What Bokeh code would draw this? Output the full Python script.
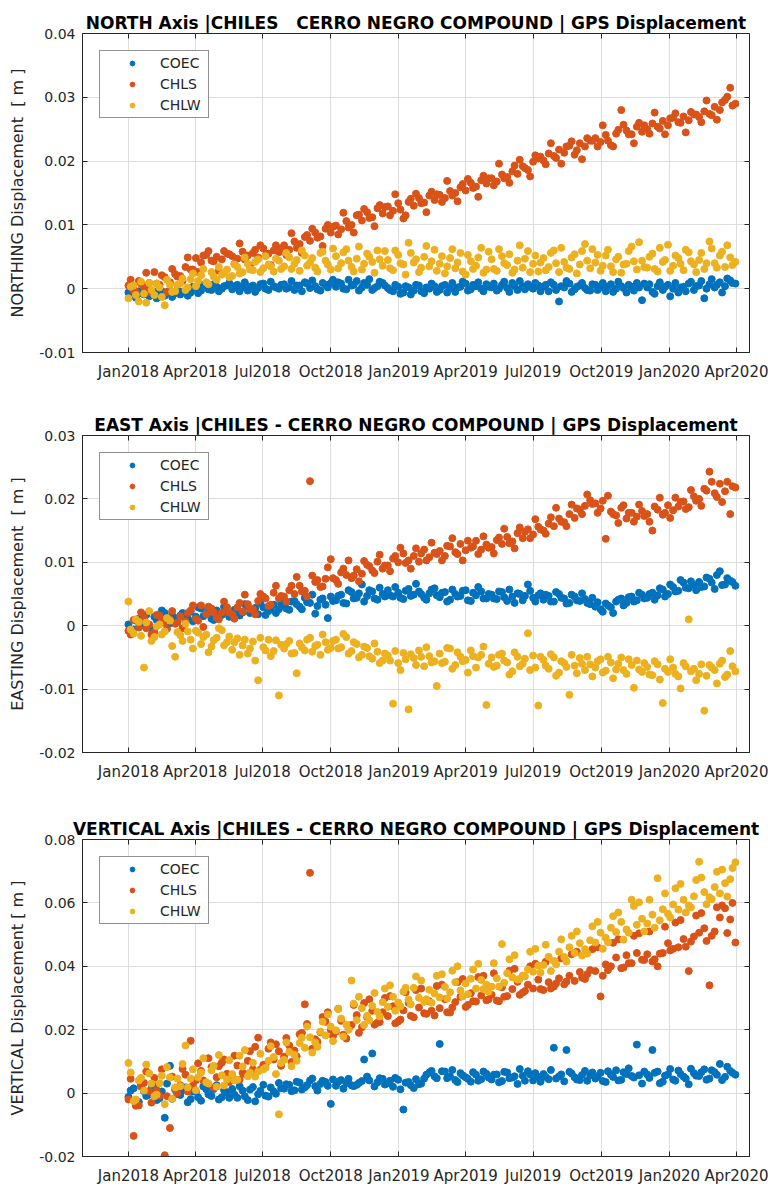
import pandas as pd
from bokeh.plotting import figure
from bokeh.models import (ColumnDataSource, Range1d, FixedTicker, CustomJSTickFormatter,
                          LinearAxis, Legend, LegendItem)
from bokeh.layouts import column
from bokeh.embed import file_html
from bokeh.resources import INLINE

# ---------------------------------------------------------------- data
# GPS displacement in millimetres.
# "_mon" lists: weekly readings starting Monday 2018-01-01
# "_thu" lists: weekly readings starting Thursday 2018-01-04
mon_start = "2018-01-01"
thu_start = "2018-01-04"
sample_step = "7D"
stations = ["COEC", "CHLS", "CHLW"]
station_colors = ["#0072BD", "#D95319", "#EDB120"]
x_tick_dates = ["2018-01-01", "2018-04-01", "2018-07-01", "2018-10-01", "2019-01-01",
                "2019-04-01", "2019-07-01", "2019-10-01", "2020-01-01", "2020-04-01"]

north_coec_mon = [-0.6, -1.0, -0.4, -0.9, -1.2, -0.5, -0.8, -1.1, -0.3, -0.7,
                  -0.9, -0.4, -0.6, 0.1, -0.3, 0.4, -0.2, 0.3, 0.0, 0.5,
                  -0.1, 0.6, 0.2, -0.3, 0.5, 0.1, 0.8, -0.2, 0.4, 0.0,
                  0.7, 0.2, -0.2, 0.5, 1.0, 0.1, 0.4, -0.3, 0.6, 0.9,
                  0.3, 0.8, -0.1, 0.5, 1.2, 0.2, 0.6, -0.2, 0.4, 0.9,
                  0.1, -0.4, 0.3, -0.6, 0.2, -0.3, 0.5, -0.7, 0.0, 0.4,
                  -0.2, 0.6, 0.1, -0.5, 0.3, 0.8, -0.1, 0.4, 0.0, 0.7,
                  0.2, -0.3, 0.6, 0.1, 0.9, -0.2, 0.4, 0.7, 0.0, 0.5,
                  0.3, -0.4, 0.6, -2.0, 0.2, 0.8, -0.1, 0.5, 0.1, -0.3,
                  0.6, 0.2, -0.4, 0.7, 0.0, 0.4, -0.6, 0.3, 0.9, -1.8,
                  0.2, -0.5, 0.4, -0.2, 0.6, 0.0, -0.6, 0.3, 0.8, -0.2,
                  0.5, -1.5, 0.7, 0.2, 1.0, 0.4, 1.3, 0.8]
north_coec_thu = [-0.3, -1.4, -0.7, -0.2, -1.0, -1.5, -0.4, -0.6, -1.3, -0.2,
                  -0.5, -1.1, 0.3, -0.7, 0.6, -0.1, 0.7, -0.4, 0.4, 0.9,
                  0.4, -0.4, 1.0, 0.3, -0.5, 0.7, 0.0, 1.1, 0.2, 0.6,
                  0.0, 1.2, 0.5, -0.4, 0.8, 1.3, -0.1, 0.9, 0.2, 1.4,
                  1.0, 0.0, 1.4, 0.6, -0.3, 0.9, 1.5, 0.1, 1.1, 0.5,
                  -0.2, 0.6, -0.8, 0.4, -0.9, 0.6, -0.4, 0.2, 0.8, -0.5,
                  0.4, -0.6, 0.9, 0.2, 1.1, -0.3, 0.6, 1.0, -0.4, 0.3,
                  0.8, 0.0, 1.1, -0.5, 0.4, 1.2, -0.1, 0.3, 0.9, -0.4,
                  0.6, 1.0, -0.2, 0.4, 1.2, -0.5, 0.3, 0.9, -0.2, 0.7,
                  -0.2, 0.9, 0.3, -0.5, 1.1, 0.1, 0.6, -0.3, 0.2, 0.8,
                  0.7, -0.8, 1.0, 0.3, -1.2, 0.9, 0.2, -0.4, 1.1, 0.4,
                  1.2, 0.0, 1.5, 0.6, -0.6, 1.6, 0.9]
north_chls_mon = [0.5, -0.3, 1.2, 0.2, 0.9, 2.6, 0.6, 1.8, 1.0, 2.3,
                  2.0, 3.4, 3.0, 4.8, 4.1, 5.3, 4.4, 5.0, 4.6, 5.5,
                  5.1, 4.7, 5.8, 5.2, 5.6, 4.9, 6.3, 5.5, 6.0, 5.7,
                  6.8, 6.1, 7.4, 7.0, 8.1, 7.5, 8.8, 8.2, 9.4, 8.8,
                  9.9, 9.3, 10.6, 10.0, 11.5, 10.7, 12.0, 11.2, 12.6, 11.8,
                  12.9, 12.2, 13.4, 11.0, 13.6, 13.0, 14.2, 13.5, 14.6, 13.9,
                  14.7, 14.2, 15.3, 15.0, 15.9, 15.4, 16.6, 16.0, 17.0, 16.5,
                  17.3, 16.8, 17.9, 17.5, 18.4, 18.0, 19.2, 18.6, 19.9, 20.4,
                  20.1, 21.2, 20.8, 21.8, 21.3, 22.4, 21.0, 22.8, 22.3, 23.2,
                  23.6, 23.0, 24.1, 22.5, 24.3, 28.0, 24.8, 24.2, 25.4, 24.6,
                  25.0, 25.9, 25.4, 26.3, 25.6, 26.8, 26.1, 27.0, 26.4, 27.3,
                  26.9, 27.8, 27.4, 28.5, 28.0, 29.6, 31.5, 29.0]
north_chls_thu = [1.4, -0.5, 0.8, 2.5, -0.6, 0.8, 2.1, -0.5, 3.1, 1.9,
                  1.2, 4.9, 3.0, 2.6, 5.2, 5.9, 4.3, 2.8, 5.9, 5.4,
                  3.9, 7.1, 4.6, 3.6, 6.1, 6.8, 5.2, 3.7, 6.8, 6.3,
                  5.3, 8.7, 6.4, 5.6, 8.4, 9.4, 8.0, 6.7, 10.0, 9.7,
                  8.5, 11.9, 9.6, 8.8, 11.6, 12.5, 11.1, 9.8, 13.1, 12.8,
                  11.5, 14.8, 12.4, 11.5, 14.1, 14.9, 13.4, 12.0, 15.2, 14.8,
                  13.6, 16.9, 14.6, 13.7, 16.4, 17.2, 15.8, 14.4, 17.7, 17.3,
                  16.2, 19.6, 17.3, 16.6, 19.3, 20.2, 18.9, 17.6, 20.9, 20.7,
                  19.5, 22.8, 20.5, 19.6, 22.3, 23.1, 21.7, 20.3, 23.6, 23.2,
                  22.3, 25.6, 23.2, 22.3, 24.9, 25.7, 24.2, 22.8, 26.0, 25.6,
                  24.3, 27.6, 25.1, 24.2, 26.7, 27.5, 26.0, 24.5, 27.7, 27.3,
                  26.1, 29.5, 27.2, 26.5, 29.2, 30.1, 28.7]
north_chlw_mon = [-1.5, 0.5, -2.0, -0.8, 0.9, -1.0, 0.2, -2.6, 0.6, -0.4,
                  0.8, -0.2, 1.5, 0.4, 2.1, 1.0, 2.6, 1.4, 2.2, 3.0,
                  2.0, 3.4, 2.6, 3.9, 2.9, 4.6, 3.2, 3.8, 2.7, 4.4,
                  3.5, 4.9, 3.9, 2.8, 5.2, 4.1, 3.3, 5.6, 4.4, 3.0,
                  5.1, 4.0, 6.2, 3.4, 4.7, 3.0, 5.5, 4.2, 6.0, 3.6,
                  4.5, 2.9, 5.3, 3.8, 7.2, 4.1, 2.6, 5.0, 3.5, 6.1,
                  3.9, 2.4, 4.8, 3.2, 5.6, 2.2, 4.3, 3.6, 6.4, 3.0,
                  4.6, 2.8, 5.1, 3.7, 2.5, 4.4, 3.3, 5.9, 3.9, 2.7,
                  4.8, 3.4, 6.0, 2.6, 4.2, 3.1, 5.4, 3.8, 7.0, 3.2,
                  4.1, 2.8, 5.2, 3.5, 4.6, 2.5, 3.9, 6.6, 3.0, 4.4,
                  3.3, 5.5, 2.7, 4.2, 6.9, 3.6, 4.8, 2.9, 5.7, 3.8,
                  4.5, 3.1, 7.4, 4.0, 5.2, 3.4, 4.9, 4.2]
north_chlw_thu = [0.3, -1.0, 1.1, -2.2, -0.2, 0.8, -1.3, 1.4, -0.5, 0.6,
                  1.6, 0.2, 2.4, 1.2, 3.1, 0.7, 1.9, 3.4, 2.5, 1.8,
                  3.8, 2.4, 4.9, 3.0, 4.2, 2.6, 5.1, 3.5, 4.7, 3.1,
                  5.6, 3.1, 4.5, 6.0, 3.6, 4.8, 2.7, 5.8, 3.8, 6.3,
                  3.2, 5.7, 4.4, 2.7, 6.6, 3.9, 5.0, 2.5, 4.6, 5.9,
                  3.2, 6.0, 4.0, 2.2, 5.6, 4.6, 3.3, 6.7, 4.3, 2.8,
                  5.1, 3.5, 6.2, 4.1, 2.7, 5.3, 3.1, 4.9, 2.5, 5.8,
                  3.1, 6.2, 4.0, 5.4, 3.0, 6.8, 4.7, 2.6, 5.2, 4.1,
                  2.9, 5.6, 4.0, 6.4, 3.3, 4.9, 2.4, 5.9, 4.4, 6.2,
                  5.3, 3.6, 6.1, 2.6, 5.0, 3.8, 5.9, 4.3, 7.3, 3.4,
                  5.0, 3.1, 6.4, 4.5, 2.8, 5.2, 3.9, 6.1, 4.3, 2.6,
                  5.6, 4.0, 6.3, 3.3, 5.8, 6.8, 3.7]

east_coec_mon = [0.2, -0.6, 1.1, 0.5, -0.3, 1.4, 0.7, 2.0, 0.4, 1.2,
                 1.6, 0.9, 2.2, 1.4, 2.7, 1.8, 1.1, 2.4, 1.7, 2.3,
                 1.9, 2.6, 2.1, 3.0, 2.4, 1.8, 2.9, 2.3, 3.3, 2.6,
                 3.2, 2.5, 3.9, 3.0, 4.4, 3.6, 1.9, 4.1, 3.3, 4.6,
                 4.0, 4.9, 3.5, 5.3, 4.4, 6.5, 4.7, 5.4, 4.1, 5.0,
                 5.6, 4.6, 5.2, 4.2, 5.8, 4.9, 5.4, 4.4, 5.1, 5.9,
                 4.5, 5.3, 4.1, 5.0, 4.7, 5.6, 3.9, 4.8, 5.4, 4.3,
                 4.9, 4.2, 5.3, 3.9, 4.6, 5.1, 4.0, 6.5, 4.4, 4.8,
                 4.1, 4.7, 3.8, 5.0, 4.3, 3.6, 4.6, 3.9, 4.2, 3.4,
                 3.0, 2.6, 3.5, 2.9, 3.8, 4.3, 3.6, 4.6, 4.0, 4.9,
                 4.4, 5.2, 4.8, 5.7, 5.0, 6.1, 5.5, 6.8, 5.9, 6.4,
                 6.9, 6.2, 7.4, 5.8, 8.6, 6.5, 7.1, 6.3]
east_coec_thu = [-0.9, 0.8, 0.1, 1.7, -0.4, 0.9, 2.4, 0.2, 1.6, 0.6,
                 2.0, 1.2, 0.7, 2.9, 1.5, 2.5, 0.9, 2.0, 3.0, 1.4,
                 2.5, 1.6, 3.4, 2.0, 2.8, 3.6, 1.7, 2.7, 2.0, 3.5,
                 2.7, 3.8, 3.4, 2.6, 3.7, 4.9, 3.1, 4.3, 1.2, 3.9,
                 4.7, 3.6, 5.6, 4.3, 5.1, 3.8, 5.6, 4.3, 6.0, 4.6,
                 4.8, 6.1, 4.4, 5.5, 4.7, 6.6, 5.0, 4.1, 5.7, 4.8,
                 5.2, 3.8, 5.7, 4.6, 5.5, 4.0, 5.2, 6.1, 4.3, 5.0,
                 4.3, 5.4, 4.5, 5.7, 3.6, 5.0, 4.7, 5.5, 3.8, 5.1,
                 4.9, 3.8, 5.3, 4.4, 3.5, 4.9, 4.0, 5.1, 3.6, 4.4,
                 3.7, 2.2, 3.2, 2.0, 4.1, 3.2, 4.5, 3.8, 5.2, 4.3,
                 5.0, 4.1, 5.9, 4.6, 6.5, 5.4, 7.2, 6.0, 7.0, 5.6,
                 6.1, 7.6, 6.8, 8.0, 6.4, 7.5, 6.9]
east_chls_mon = [-0.8, 0.9, -0.3, 1.3, 0.2, -1.0, 1.6, 0.5, 1.0, 0.3,
                 1.5, 0.7, 2.4, 1.1, 3.2, 1.8, 2.7, 1.3, 2.1, 2.9,
                 1.8, 2.9, 2.2, 3.4, 2.6, 3.9, 4.6, 3.1, 5.2, 4.3,
                 4.6, 5.6, 5.0, 6.3, 5.5, 22.8, 6.9, 6.1, 7.4, 10.5,
                 7.2, 8.4, 8.0, 7.5, 8.9, 8.2, 9.6, 8.7, 10.1, 9.0,
                 9.5, 10.6, 10.0, 11.4, 10.3, 11.0, 10.1, 12.0, 10.8, 11.5,
                 11.8, 11.0, 12.5, 11.6, 12.9, 11.9, 12.3, 13.4, 12.0, 12.8,
                 12.4, 13.5, 12.9, 14.0, 13.3, 14.6, 13.8, 15.2, 14.4, 15.6,
                 15.0, 16.1, 15.7, 16.9, 16.3, 17.6, 17.0, 18.3, 18.9, 19.8,
                 19.3, 18.5, 13.7, 18.0, 17.4, 18.6, 16.9, 17.8, 17.2, 18.1,
                 17.6, 15.0, 18.3, 17.5, 19.0, 18.2, 18.8, 19.6, 18.7, 20.4,
                 20.0, 21.6, 24.3, 20.9, 22.4, 21.2, 17.6, 21.8]
east_chls_thu = [-1.4, 0.9, 2.1, -0.4, -1.4, 1.7, 0.8, -0.5, 2.3, 0.5,
                 -0.4, 2.0, 3.2, 0.8, -0.2, 3.0, 2.1, 1.0, 3.8, 2.1,
                 1.1, 3.6, 4.9, 2.6, 1.8, 5.0, 4.3, 3.3, 6.3, 4.7,
                 3.8, 6.3, 7.7, 5.4, 4.6, 7.9, 7.2, 6.2, 9.2, 7.5,
                 6.6, 9.0, 10.3, 7.9, 7.0, 10.2, 9.4, 8.3, 11.2, 9.5,
                 8.6, 11.0, 12.3, 9.9, 9.0, 12.2, 11.4, 10.3, 13.1, 11.3,
                 10.3, 12.6, 13.8, 11.3, 10.3, 13.4, 12.5, 11.3, 14.1, 12.3,
                 11.4, 13.9, 15.3, 13.0, 12.2, 15.5, 14.8, 13.8, 16.8, 15.2,
                 14.5, 17.1, 18.6, 16.4, 15.7, 19.1, 18.5, 17.6, 20.7, 19.2,
                 17.8, 19.7, 20.5, 17.6, 16.2, 19.0, 17.8, 16.4, 19.1, 17.3,
                 16.4, 18.8, 20.2, 17.8, 17.0, 20.2, 19.5, 18.4, 21.4, 19.7,
                 18.9, 21.3, 22.7, 20.3, 19.5, 22.7, 22.0]
east_chlw_mon = [3.8, -1.2, 0.6, -6.6, 2.3, -1.8, 0.2, -0.9, 0.8, -4.9,
                 -1.5, 0.3, -2.2, -0.8, -2.9, -1.4, -3.3, -1.9, -0.7, -2.6,
                 -3.8, -2.0, -3.1, -4.4, -2.5, -8.6, -3.4, -2.2, -4.0, -11.0,
                 -3.6, -2.4, -4.3, -2.8, -3.9, -1.9, -3.2, -4.6, -2.6, -3.5,
                 -2.2, -3.4, -1.8, -4.0, -2.9, -4.6, -3.5, -5.2, -4.1, -5.5,
                 -4.7, -12.3, -5.9, -4.3, -13.2, -5.1, -3.9, -6.4, -4.8, -5.6,
                 -4.4, -5.7, -3.6, -6.2, -4.9, -5.4, -3.9, -6.6, -4.6, -12.5,
                 -5.0, -6.3, -4.4, -5.8, -7.2, -4.9, -6.0, -1.2, -4.7, -12.6,
                 -5.4, -6.8, -5.0, -7.4, -5.9, -10.9, -6.3, -5.1, -7.0, -6.1,
                 -6.6, -5.3, -7.1, -5.8, -6.9, -5.0, -7.6, -6.2, -5.5, -7.3,
                 -6.5, -7.8, -6.1, -12.2, -7.3, -6.6, -8.0, -5.9, 1.0, -6.8,
                 -7.6, -13.4, -6.2, -7.0, -6.0, -8.1, -4.0, -7.2]
east_chlw_thu = [-0.6, 1.0, -1.6, 0.5, -2.4, -0.1, -1.4, 1.2, -3.2, -1.0,
                 -2.4, -0.9, -3.6, -1.1, -1.8, -4.2, -2.3, -0.4, -3.1, -1.7,
                 -2.6, -4.6, -2.2, -3.6, -5.5, -1.9, -3.9, -4.8, -2.3, -3.0,
                 -2.9, -4.4, -7.5, -3.4, -2.2, -4.1, -3.0, -1.4, -3.8, -2.4,
                 -3.6, -1.3, -4.4, -2.6, -5.0, -3.3, -4.8, -2.8, -5.9, -4.4,
                 -5.5, -4.0, -7.0, -5.3, -4.5, -6.2, -4.9, -3.4, -5.8, -9.5,
                 -5.9, -3.5, -6.8, -4.2, -5.6, -7.4, -4.8, -5.0, -3.3, -6.0,
                 -6.5, -4.6, -5.5, -7.7, -4.2, -6.4, -5.2, -7.0, -6.6, -4.9,
                 -6.3, -4.5, -7.9, -5.6, -6.5, -4.6, -7.5, -6.0, -4.9, -8.0,
                 -5.6, -7.4, -4.9, -8.3, -6.0, -7.0, -5.3, -9.8, -6.9, -5.9,
                 -7.7, -5.6, -8.5, -6.8, -5.3, -7.6, -9.9, -6.4, -7.2, -8.6,
                 -6.1, -7.9, -6.6, -9.1, -5.5, -7.7, -6.4]

vert_coec_mon = [-1.2, 1.5, -2.8, 0.6, -0.5, 2.2, -1.6, -7.8, 8.6, 1.1,
                 -0.6, 1.8, -1.9, 0.4, -2.4, 1.2, -0.9, 2.5, -1.3, 0.2,
                 1.3, -1.5, 0.8, -2.2, 1.9, -0.4, 2.6, -1.1, 0.5, 3.2,
                 1.4, 2.6, 0.9, 3.3, 1.8, 4.0, 2.2, 2.9, 3.5, -3.4,
                 2.3, 4.1, 3.0, 2.5, 2.6, 3.8, 5.2, 12.5, 3.4, 4.5,
                 3.1, 2.0, 4.2, -5.2, 3.5, 1.6, 2.8, 4.6, 6.5, 5.3,
                 15.5, 6.8, 5.2, 4.1, 6.3, 5.0, 3.6, 5.8, 4.4, 6.1,
                 4.3, 5.9, 3.8, 6.5, 4.9, 2.9, 5.5, 6.9, 4.0, 5.2,
                 6.0, 4.4, 14.3, 5.3, 3.7, 6.7, 5.0, 4.1, 7.0, 5.6,
                 4.6, 6.4, 3.5, 5.8, 7.2, 4.2, 6.0, 5.4, 15.3, 3.0,
                 5.9, 13.6, 6.8, 3.6, 5.9, 4.3, 7.1, 5.2, 2.8, 6.3,
                 5.4, 7.5, 4.6, 6.6, 9.2, 5.1, 7.0, 5.8]
vert_coec_thu = [0.8, -3.5, 2.6, -0.9, 1.4, -2.2, 0.5, 3.0, -1.8, -0.3,
                 1.0, -2.9, 0.5, -1.3, 2.1, -0.4, 1.3, -2.0, 0.9, -1.5,
                 -0.5, 2.2, -1.0, 1.1, -2.6, 0.7, -0.8, 1.8, -0.2, 1.5,
                 2.8, 0.6, 3.6, 1.1, 2.5, 4.6, 0.8, 3.9, 2.3, 4.3,
                 3.6, 1.4, 4.5, 2.2, 3.2, 10.6, 4.0, 2.1, 4.7, 2.7,
                 3.9, 4.8, 1.2, 3.3, 2.5, 4.4, 3.0, 5.8, 7.0, 4.7,
                 6.9, 4.7, 7.3, 3.5, 5.6, 4.5, 6.6, 3.9, 6.8, 4.9,
                 5.8, 3.4, 6.7, 4.7, 5.3, 7.6, 3.9, 5.9, 6.3, 3.6,
                 5.1, 7.3, 4.6, 5.9, 13.6, 6.2, 4.3, 5.7, 3.9, 6.5,
                 5.3, 3.8, 6.9, 5.1, 4.0, 6.6, 7.8, 4.9, 5.6, 6.8,
                 4.8, 6.4, 3.1, 5.5, 7.6, 3.9, 6.0, 4.6, 7.7, 5.5,
                 6.6, 4.2, 7.2, 5.8, 4.1, 8.3, 6.4]
vert_chls_mon = [-2.0, -13.5, -3.9, 3.2, 0.6, 4.8, -0.8, -19.6, -11.0, 1.4,
                 2.5, 5.8, 16.5, 4.1, 7.0, 3.3, 8.2, 5.0, 9.6, 6.1,
                 5.5, 8.7, 6.4, 10.2, 7.5, 17.5, 8.9, 14.0, 10.6, 13.2,
                 11.5, 15.0, 13.4, 18.6, 28.0, 69.5, 17.0, 19.2, 22.5, 20.0,
                 19.4, 22.8, 17.2, 21.5, 24.6, 20.8, 23.9, 26.0, 22.2, 25.5,
                 24.3, 27.4, 22.6, 26.1, 28.5, 23.9, 27.0, 25.2, 29.0, 24.5,
                 26.8, 29.6, 25.4, 28.7, 30.4, 27.2, 31.5, 28.9, 30.8, 29.3,
                 31.0, 29.2, 33.4, 30.6, 32.8, 35.1, 31.7, 34.2, 33.0, 35.8,
                 32.5, 35.0, 33.6, 36.2, 34.3, 37.0, 35.4, 38.2, 36.0, 38.8,
                 38.5, 30.5, 40.6, 40.0, 42.8, 39.4, 43.5, 41.0, 44.2, 42.1,
                 43.8, 41.5, 40.0, 44.2, 47.3, 45.5, 46.0, 48.6, 38.5, 49.4,
                 50.6, 52.0, 34.0, 51.0, 55.4, 58.3, 54.8, 47.5]
vert_chls_thu = [4.5, -4.0, 2.0, 6.8, -3.0, 1.0, 7.5, -1.0, 5.2, 0.0,
                 7.6, 0.5, 2.4, 9.4, 4.0, 11.0, 1.8, 8.5, 10.6, 3.5,
                 11.8, 4.2, 6.0, 13.2, 14.6, 7.4, 9.0, 16.0, 15.4, 8.6,
                 17.4, 9.8, 11.6, 19.0, 21.8, 14.0, 16.2, 24.0, 25.5, 18.0,
                 26.6, 18.4, 20.2, 27.8, 19.0, 28.4, 29.6, 21.6, 22.4, 30.0,
                 30.6, 22.0, 23.2, 31.8, 24.4, 32.5, 33.0, 25.0, 26.0, 33.8,
                 34.2, 25.5, 27.0, 35.0, 36.0, 27.8, 29.0, 36.6, 37.0, 29.6,
                 37.8, 29.0, 30.4, 38.6, 39.2, 31.0, 32.2, 40.0, 40.8, 32.8,
                 41.4, 33.0, 34.6, 42.5, 35.2, 43.8, 44.6, 36.4, 37.5, 45.4,
                 46.0, 37.0, 38.8, 47.4, 48.5, 39.6, 41.0, 49.6, 50.4, 42.0,
                 51.0, 42.2, 44.0, 52.5, 45.0, 53.8, 54.6, 46.2, 47.8, 56.0,
                 56.8, 48.0, 49.6, 58.6, 59.2, 50.5, 60.0]
vert_chlw_mon = [9.5, -2.5, 4.0, 0.8, 6.2, -1.0, 3.1, -3.5, 5.0, 1.8,
                 2.2, 15.0, 4.6, 0.9, 6.5, 3.4, 7.2, 2.0, 5.6, 4.3,
                 6.0, 4.2, 8.4, 5.3, 9.6, 6.8, 7.5, 10.2, 11.4, -6.7,
                 10.5, 13.0, 12.1, 15.8, 14.3, 17.6, 16.0, 19.4, 18.2, 21.0,
                 19.8, 23.5, 21.6, 35.5, 23.0, 26.8, 24.4, 27.5, 25.6, 28.7,
                 27.2, 30.4, 28.6, 32.0, 29.5, 33.2, 30.1, 28.8, 32.6, 31.4,
                 30.2, 33.5, 31.8, 35.0, 32.4, 34.6, 36.1, 33.0, 35.7, 34.2,
                 33.6, 36.2, 47.0, 37.8, 36.5, 35.8, 37.1, 39.0, 38.3, 40.2,
                 40.4, 43.0, 41.7, 44.6, 42.9, 46.0, 44.2, 47.3, 45.4, 48.2,
                 47.5, 50.6, 49.0, 52.2, 50.8, 54.0, 51.6, 61.0, 53.1, 55.0,
                 53.5, 56.3, 67.8, 58.0, 56.6, 59.5, 57.9, 61.0, 59.2, 62.1,
                 73.0, 63.4, 61.8, 65.0, 63.0, 66.2, 67.5, 72.8]
vert_chlw_thu = [6.5, -2.0, 4.8, 9.0, 3.0, -0.5, 5.5, 8.2, -1.8, 4.6,
                 9.2, 1.8, 7.5, 5.0, 11.0, 3.0, 8.6, 12.0, 2.4, 10.4,
                 4.0, 11.8, 13.6, 6.5, 5.2, 12.4, 8.0, 14.8, 6.0, 9.5,
                 16.0, 8.5, 10.2, 17.5, 21.0, 12.8, 14.6, 22.5, 24.8, 16.4,
                 26.5, 17.8, 20.0, 28.2, 30.4, 21.5, 23.0, 31.6, 24.2, 33.0,
                 34.0, 26.0, 27.4, 33.2, 28.0, 36.8, 35.5, 29.6, 28.5, 37.0,
                 37.5, 29.8, 38.6, 40.0, 30.5, 31.2, 39.0, 40.8, 32.8, 32.0,
                 41.0, 33.6, 34.8, 42.2, 43.5, 36.0, 36.8, 44.6, 45.5, 38.0,
                 46.8, 38.5, 40.6, 48.5, 41.5, 49.6, 51.0, 43.4, 44.0, 52.6,
                 54.0, 45.5, 47.6, 55.8, 57.0, 48.4, 50.6, 59.0, 60.2, 51.0,
                 61.0, 52.2, 54.5, 63.0, 55.4, 64.6, 66.0, 57.0, 58.6, 67.2,
                 68.0, 59.6, 61.2, 69.8, 70.5, 62.0, 71.0]

north_ticks = [-0.01, 0.0, 0.01, 0.02, 0.03, 0.04]
east_ticks = [-0.02, -0.01, 0.0, 0.01, 0.02, 0.03]
vert_ticks = [-0.02, 0.0, 0.02, 0.04, 0.06, 0.08]

# ---------------------------------------------------------------- style
FONT = "DejaVu Sans"
DARK = "#262626"
GRID = "#dedede"
NB = "\u00a0"
x_ticks_ms = [pd.Timestamp(d).value // 10**6 for d in x_tick_dates]
date_fmt = CustomJSTickFormatter(code="""
const m = ['Jan','Feb','Mar','Apr','May','Jun','Jul','Aug','Sep','Oct','Nov','Dec'];
const d = new Date(tick);
return m[d.getUTCMonth()] + d.getUTCFullYear();
""")
num_fmt = CustomJSTickFormatter(code="return Math.abs(tick) < 1e-12 ? '0' : tick.toFixed(2);")
blank_fmt = CustomJSTickFormatter(code="return '';")


def make_panel(title, ylabel, series, yticks, height, b_top, b_bottom):
    p = figure(width=768, height=height, output_backend="svg", toolbar_location=None,
               x_axis_type="datetime",
               x_range=Range1d(pd.Timestamp("2017-10-31"), pd.Timestamp("2020-04-18")),
               y_range=Range1d(yticks[0], yticks[-1]),
               min_border_left=82, min_border_right=19,
               min_border_top=b_top, min_border_bottom=b_bottom)
    p.background_fill_color = "white"
    p.border_fill_color = "white"
    p.outline_line_color = DARK
    p.outline_line_width = 1

    p.title.text = title
    p.title.text_font = FONT
    p.title.text_font_size = "17px"
    p.title.text_font_style = "bold"
    p.title.text_color = "black"
    p.title.align = "center"
    p.title.standoff = 2

    xt = FixedTicker(ticks=x_ticks_ms)
    yt = FixedTicker(ticks=yticks)
    p.xaxis.ticker = xt
    p.xaxis.formatter = date_fmt
    p.yaxis.ticker = yt
    p.yaxis.formatter = num_fmt
    p.xgrid.ticker = xt
    p.ygrid.ticker = yt
    p.grid.grid_line_color = GRID
    p.grid.grid_line_width = 1

    for ax in (p.xaxis[0], p.yaxis[0]):
        ax.major_tick_in = 5
        ax.major_tick_out = 0
        ax.minor_tick_line_color = None
        ax.axis_line_color = DARK
        ax.major_tick_line_color = DARK
        ax.major_label_text_font = FONT
        ax.major_label_text_color = DARK
    p.xaxis.major_label_text_font_size = "15px"
    p.yaxis.major_label_text_font_size = "14px"
    p.xaxis.major_label_standoff = 10
    p.yaxis.major_label_standoff = 7
    p.yaxis.axis_label = ylabel
    p.yaxis.axis_label_text_font = FONT
    p.yaxis.axis_label_text_font_size = "16px"
    p.yaxis.axis_label_text_font_style = "normal"
    p.yaxis.axis_label_text_color = DARK
    p.yaxis.axis_label_standoff = 9

    right = LinearAxis(ticker=FixedTicker(ticks=yticks), formatter=blank_fmt,
                       major_tick_in=5, major_tick_out=0, minor_tick_line_color=None,
                       axis_line_color=None, major_tick_line_color=DARK,
                       major_label_standoff=0)
    p.add_layout(right, "right")
    top = LinearAxis(ticker=FixedTicker(ticks=x_ticks_ms), formatter=blank_fmt,
                     major_tick_in=5, major_tick_out=0, minor_tick_line_color=None,
                     axis_line_color=None, major_tick_line_color=DARK,
                     major_label_standoff=0, major_label_text_font_size="1px")
    p.add_layout(top, "above")

    items = []
    for name, color, (mon_vals, thu_vals) in zip(stations, station_colors, series):
        dates = list(pd.date_range(mon_start, periods=len(mon_vals), freq=sample_step)) + \
            list(pd.date_range(thu_start, periods=len(thu_vals), freq=sample_step))
        vals = list(mon_vals) + list(thu_vals)
        src = ColumnDataSource(dict(date=dates, disp=[v / 1000.0 for v in vals]))
        r = p.scatter("date", "disp", source=src, size=7, marker="circle",
                      fill_color=color, line_color=color)
        items.append(LegendItem(label=name, renderers=[r]))

    legend = Legend(items=items, location="top_left", margin=17, padding=4, spacing=5,
                    glyph_width=56, glyph_height=12, label_height=14, label_width=44,
                    label_standoff=0, label_text_font=FONT, label_text_font_size="14px",
                    label_text_color=DARK, border_line_color=DARK, border_line_width=1,
                    background_fill_color="white", background_fill_alpha=1.0)
    p.add_layout(legend)
    return p


p1 = make_panel("NORTH Axis |CHILES" + NB * 3 + "CERRO NEGRO COMPOUND | GPS Displacement",
                "NORTHING Displacement" + NB * 2 + "[ m ]",
                [(north_coec_mon, north_coec_thu), (north_chls_mon, north_chls_thu),
                 (north_chlw_mon, north_chlw_thu)], north_ticks, 395, 33, 43)
p2 = make_panel("EAST Axis |CHILES - CERRO NEGRO COMPOUND | GPS Displacement",
                "EASTING Displacement" + NB * 2 + "[ m ]",
                [(east_coec_mon, east_coec_thu), (east_chls_mon, east_chls_thu),
                 (east_chlw_mon, east_chlw_thu)], east_ticks, 395, 40, 38)
p3 = make_panel("VERTICAL Axis |CHILES - CERRO NEGRO COMPOUND | GPS Displacement",
                "VERTICAL Displacement [ m ]",
                [(vert_coec_mon, vert_coec_thu), (vert_chls_mon, vert_chls_thu),
                 (vert_chlw_mon, vert_chlw_thu)], vert_ticks, 397, 49, 29)

layout = column(p1, p2, p3, spacing=0)
open("out.html", "w").write(file_html(layout, INLINE))
